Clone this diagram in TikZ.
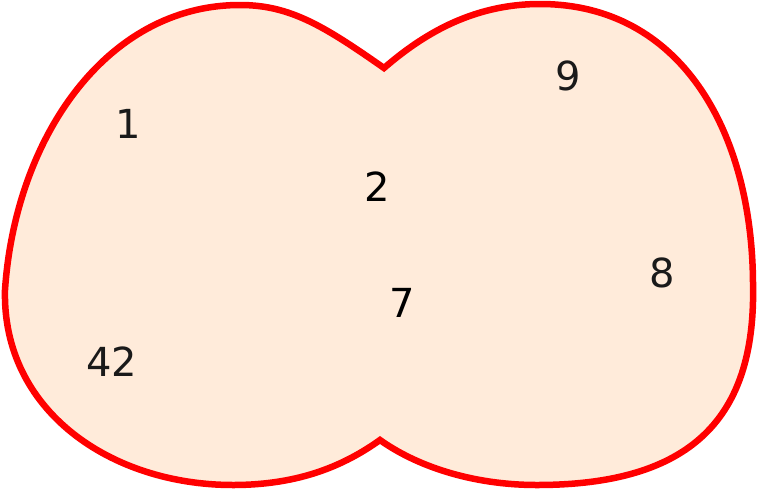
\documentclass[tikz,border=0pt]{standalone}
\usepackage{fontspec}
\setmainfont{DejaVu Sans}
\definecolor{blobfill}{HTML}{FFEBDA}
\definecolor{blobline}{HTML}{FF0000}
\definecolor{numgray}{HTML}{1A1A1A}
\begin{document}
\begin{tikzpicture}[x=1pt,y=-1pt,
  blob/.style={draw=blobline,fill=blobfill,line width=6.5pt,line join=miter},
  num/.style={inner sep=0pt,font=\fontsize{40}{48}\selectfont,text=numgray}]
\useasboundingbox (0,0) rectangle (757,490);
\path[blob] (384,68) .. controls (324,26) and (290,5) .. (240,5)
  .. controls (105,5) and (15,140) .. (5,290)
  .. controls (2,410) and (110,485) .. (233,485)
  .. controls (300,485) and (345,465) .. (380,440)
  .. controls (415,465) and (470,485) .. (537,485)
  .. controls (700,485) and (756,410) .. (753,283)
  .. controls (752,130) and (680,4) .. (540,4)
  .. controls (470,4) and (420,37) .. cycle;
\node[num] (n1) at (128,124) {1};
\node[num] (n9) at (568,76) {9};
\node[num,text=black] (n2) at (377,187) {2};
\node[num] (n8) at (662,273) {8};
\node[num,text=black] (n7) at (402,303) {7};
\node[num] (n42) at (112,362) {42};
\end{tikzpicture}
\end{document}
